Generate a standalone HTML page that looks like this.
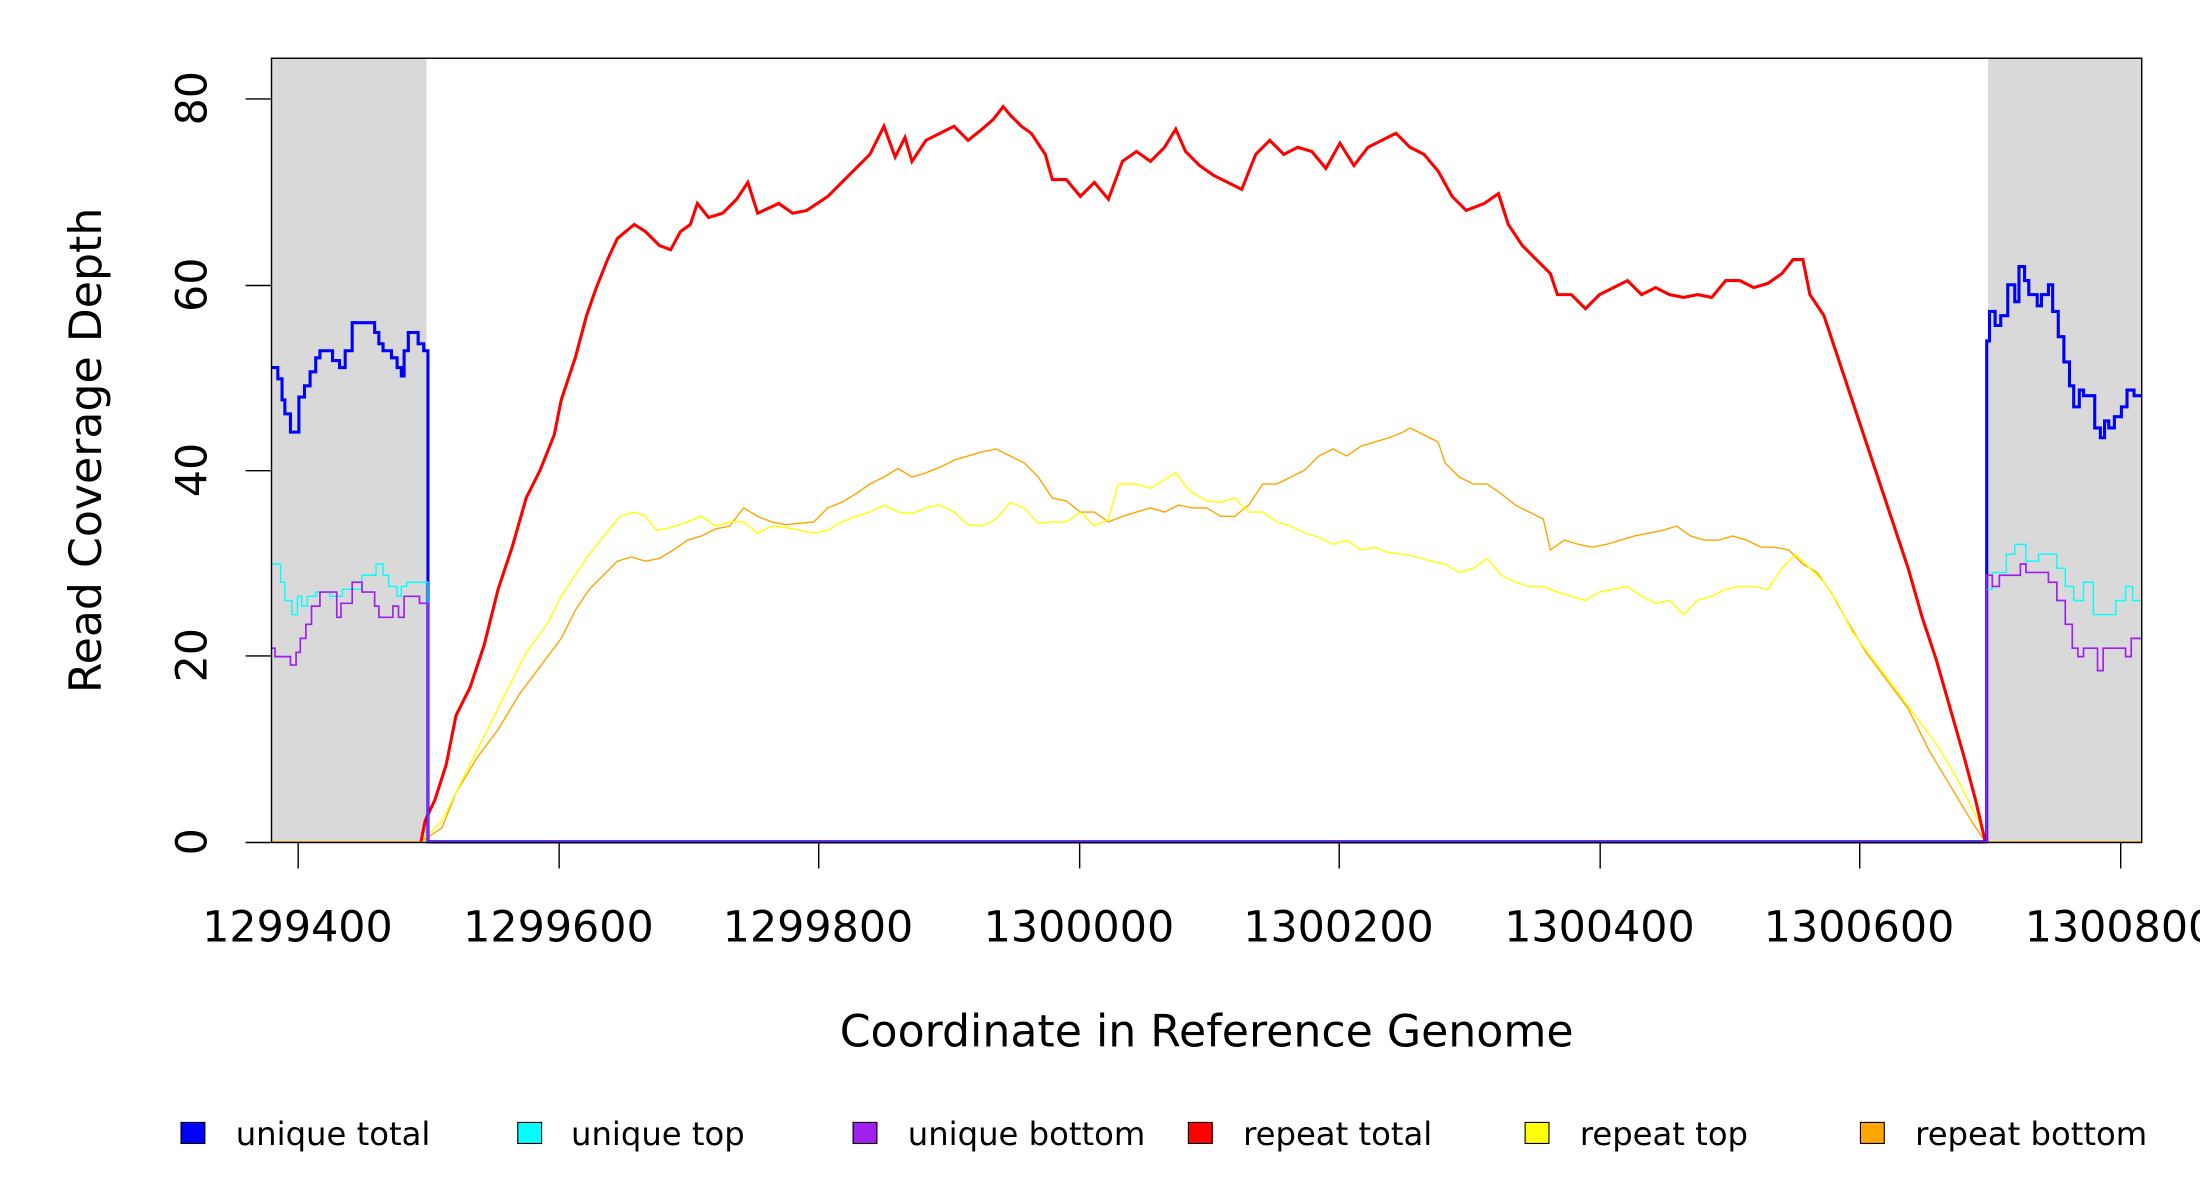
<!DOCTYPE html>
<html><head><meta charset="utf-8"><style>html,body{margin:0;padding:0;background:#fff}svg{display:block}</style></head><body>
<svg width="2200" height="1200" viewBox="0 0 1568 855.3" xmlns="http://www.w3.org/2000/svg" font-family="'DejaVu Sans','Liberation Sans',sans-serif">
<rect x="0" y="0" width="1568" height="856" fill="#fff"/>
<rect x="193" y="41" width="111" height="559" fill="#d9d9d9"/>
<rect x="1417" y="41" width="109" height="559" fill="#d9d9d9"/>
<g fill="none" stroke-linejoin="miter">
<polyline stroke="#ffa500" stroke-width="1" points="193,600 300,600 315,590 325,565 340,540 355,520 370,495 385,475 400,455 410,435 420,420 430,410 440,400 450,397 460,400 470,398 480,392 490,385 500,382 510,377 520,375 530,362 540,368 550,372 560,374 570,373 580,372 590,362 600,358 610,352 620,345 630,340 640,334 650,340 660,337 670,333 680,328 690,325 700,322 710,320 720,325 730,330 740,340 750,355 760,357 770,365 780,365 790,372 800,368 810,365 820,362 830,365 840,360 850,362 860,362 870,368 880,368 890,360 900,345 910,345 920,340 930,335 940,325 950,320 960,325 970,318 980,315 990,312 1000,308 1005,305 1015,310 1025,315 1030,330 1040,340 1050,345 1060,345 1070,352 1080,360 1090,365 1100,370 1105,392 1115,385 1125,388 1135,390 1145,388 1155,385 1165,382 1175,380 1185,378 1195,375 1205,382 1215,385 1225,385 1235,382 1245,385 1255,390 1265,390 1275,392 1285,402 1295,408 1305,422 1315,440 1330,465 1345,485 1360,505 1375,535 1390,560 1405,585 1415,600 1526,600"/>
<polyline stroke="#ffff00" stroke-width="1" points="300,600 315,585 330,555 345,525 360,495 375,465 390,445 400,425 410,410 420,395 432,380 442,368 452,365 460,368 468,378 478,376 490,372 500,368 510,375 520,372 530,372 540,380 550,375 560,376 570,378 580,380 590,378 600,372 610,368 620,365 630,360 640,365 650,366 660,362 670,360 680,365 690,374 700,375 710,370 720,358 730,362 740,373 750,372 760,372 770,365 780,375 790,370 797,345 810,345 820,348 830,342 838,337 848,350 860,357 870,358 880,355 890,365 900,365 910,372 920,375 930,380 940,383 950,388 960,385 970,392 980,390 990,394 1000,395 1010,397 1020,400 1030,402 1040,408 1050,405 1060,398 1070,410 1080,415 1090,418 1100,418 1110,422 1120,425 1130,428 1140,422 1150,420 1160,418 1170,425 1180,430 1190,428 1200,438 1210,428 1220,425 1230,420 1240,418 1250,418 1260,420 1270,405 1280,395 1290,405 1300,415 1310,430 1320,450 1335,470 1350,490 1365,510 1380,530 1395,555 1410,585 1416,600"/>
<polyline stroke="#ff0000" stroke-width="2.2" points="300,600 303,585 310,570 318,545 325,510 335,490 345,460 355,420 365,390 375,355 385,335 395,310 400,285 410,255 418,225 425,205 433,185 440,170 452,160 460,165 470,175 478,178 485,165 492,160 497,145 505,155 515,152 525,142 533,130 540,152 555,145 565,152 575,150 590,140 600,130 610,120 620,110 630,90 638,112 645,98 650,115 660,100 670,95 680,90 690,100 700,92 708,85 715,76 720,82 728,90 735,95 745,110 750,128 760,128 770,140 780,130 790,142 800,115 810,108 820,115 830,105 838,92 845,108 855,118 865,125 875,130 885,135 895,110 905,100 915,110 925,105 935,108 945,120 955,102 965,118 975,105 985,100 995,95 1005,105 1015,110 1025,122 1035,140 1045,150 1058,145 1068,138 1075,160 1085,175 1095,185 1105,195 1110,210 1120,210 1130,220 1140,210 1150,205 1160,200 1170,210 1180,205 1190,210 1200,212 1210,210 1220,212 1230,200 1240,200 1250,205 1260,202 1270,195 1278,185 1285,185 1290,210 1300,225 1310,255 1320,285 1330,315 1340,345 1350,375 1360,405 1370,440 1380,470 1390,505 1400,540 1408,570 1415,600"/>
<polyline stroke="#0000ff" stroke-width="2.2" points="193,262 198,262 198,270 201,270 201,285 203,285 203,295 207,295 207,308 213,308 213,283 217,283 217,275 221,275 221,265 225,265 225,255 228,255 228,250 237,250 237,257 242,257 242,262 246,262 246,250 251,250 251,230 267,230 267,237 270,237 270,245 273,245 273,250 279,250 279,255 283,255 283,262 286,262 286,268 288,268 288,250 291,250 291,237 298,237 298,245 302,245 302,250 305,250 305,600 1416,600 1416,243 1418,243 1418,222 1422,222 1422,232 1426,232 1426,225 1431,225 1431,203 1436,203 1436,215 1439,215 1439,190 1443,190 1443,200 1446,200 1446,210 1452,210 1452,218 1455,218 1455,210 1460,210 1460,203 1463,203 1463,222 1467,222 1467,240 1471,240 1471,258 1475,258 1475,275 1478,275 1478,290 1482,290 1482,278 1485,278 1485,282 1493,282 1493,305 1497,305 1497,312 1500,312 1500,300 1503,300 1503,305 1507,305 1507,297 1512,297 1512,290 1516,290 1516,278 1521,278 1521,282 1526,282"/>
<polyline stroke="#00ffff" stroke-width="1" points="193,402 200,402 200,415 203,415 203,428 208,428 208,438 212,438 212,425 215,425 215,432 219,432 219,425 225,425 225,422 235,422 235,425 244,425 244,420 258,420 258,410 268,410 268,402 273,402 273,410 277,410 277,418 283,418 283,425 286,425 286,418 290,418 290,415 305,415 305,600 1416,600 1416,420 1420,420 1420,408 1430,408 1430,395 1436,395 1436,388 1444,388 1444,400 1453,400 1453,395 1466,395 1466,405 1472,405 1472,418 1478,418 1478,428 1485,428 1485,415 1492,415 1492,438 1508,438 1508,428 1515,428 1515,418 1520,418 1520,428 1526,428"/>
<polyline stroke="#a020f0" stroke-width="1.2" points="193,462 196,462 196,468 207,468 207,474 211,474 211,465 214,465 214,455 218,455 218,445 222,445 222,432 228,432 228,422 240,422 240,440 243,440 243,430 251,430 251,415 258,415 258,422 267,422 267,432 270,432 270,440 280,440 280,432 284,432 284,440 288,440 288,425 299,425 299,430 305,430 305,600 1416,600 1416,410 1420,410 1420,418 1425,418 1425,410 1440,410 1440,402 1444,402 1444,408 1460,408 1460,415 1466,415 1466,428 1472,428 1472,445 1477,445 1477,462 1481,462 1481,468 1485,468 1485,462 1495,462 1495,478 1499,478 1499,462 1515,462 1515,468 1519,468 1519,455 1526,455"/>
<line x1="305" y1="600.5" x2="1416" y2="600.5" stroke="#7030f0" stroke-width="1.5"/>
</g>
<rect x="193.5" y="41.5" width="1333" height="559" fill="none" stroke="#000" stroke-width="1"/>
<g stroke="#000" stroke-width="1">
<line x1="175" y1="600.5" x2="193" y2="600.5"/><line x1="175" y1="467.5" x2="193" y2="467.5"/><line x1="175" y1="335.5" x2="193" y2="335.5"/><line x1="175" y1="203.5" x2="193" y2="203.5"/><line x1="175" y1="70.5" x2="193" y2="70.5"/>
<line x1="212.5" y1="600" x2="212.5" y2="619"/><line x1="398.5" y1="600" x2="398.5" y2="619"/><line x1="583.5" y1="600" x2="583.5" y2="619"/><line x1="769.5" y1="600" x2="769.5" y2="619"/><line x1="954.5" y1="600" x2="954.5" y2="619"/><line x1="1140.5" y1="600" x2="1140.5" y2="619"/><line x1="1325.5" y1="600" x2="1325.5" y2="619"/><line x1="1511.5" y1="600" x2="1511.5" y2="619"/>
</g>
<g font-size="30.5" text-anchor="middle" fill="#000">
<text transform="translate(147,600) rotate(-90)">0</text>
<text transform="translate(147,467) rotate(-90)">20</text>
<text transform="translate(147,335) rotate(-90)">40</text>
<text transform="translate(147,203) rotate(-90)">60</text>
<text transform="translate(147,70) rotate(-90)">80</text>
<text x="212" y="671">1299400</text><text x="398" y="671">1299600</text><text x="583" y="671">1299800</text><text x="769" y="671">1300000</text><text x="954" y="671">1300200</text><text x="1140" y="671">1300400</text><text x="1325" y="671">1300600</text><text x="1511" y="671">1300800</text>
<text x="860" y="746" font-size="31.5">Coordinate in Reference Genome</text>
<text transform="translate(72,321) rotate(-90)" font-size="31.5">Read Coverage Depth</text>
</g>
<g stroke="#000" stroke-width="0.8">
<rect x="129" y="800" width="17" height="15" fill="#0000ff"/>
<rect x="369" y="800" width="17" height="15" fill="#00ffff"/>
<rect x="608" y="800" width="17" height="15" fill="#a020f0"/>
<rect x="847" y="800" width="17" height="15" fill="#ff0000"/>
<rect x="1087" y="800" width="17" height="15" fill="#ffff00"/>
<rect x="1326" y="800" width="17" height="15" fill="#ffa500"/>
</g>
<g font-size="23" fill="#000">
<text x="168" y="816">unique total</text><text x="407" y="816">unique top</text><text x="647" y="816">unique bottom</text><text x="886" y="816">repeat total</text><text x="1126" y="816">repeat top</text><text x="1365" y="816">repeat bottom</text>
</g>
</svg>
</body></html>
